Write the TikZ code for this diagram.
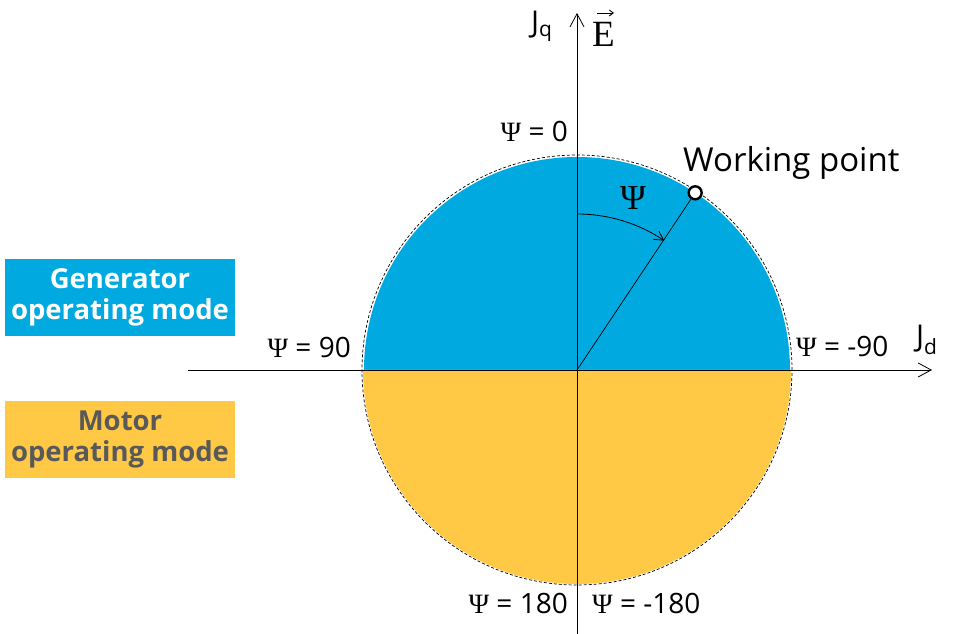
\documentclass[tikz,border=0pt]{standalone}
\usepackage{fontspec}
\setmainfont{Open Sans}
\newfontfamily\psifont{Liberation Serif}
\usetikzlibrary{arrows.meta,calc}
\definecolor{genblue}{RGB}{0,169,224}
\definecolor{motyellow}{RGB}{255,200,69}
\definecolor{mottext}{RGB}{89,89,89}
\tikzset{
  axis/.style={line width=0.8pt,-{Straight Barb[length=13pt,width=14pt,line width=0.8pt]}},
  lbl/.style={font=\fontsize{28}{32}\selectfont, inner sep=0pt},
  modebox/.style={minimum width=230pt, minimum height=77pt, inner sep=0pt, align=center,
    font=\fontsize{27.5}{31}\selectfont\bfseries},
}
\newcommand{\Psy}{{\psifont Ψ}}
\begin{document}
\begin{tikzpicture}[x=1pt,y=1pt]
\useasboundingbox (0,0) rectangle (961,634);
\coordinate (O) at (577,264);
% fills
\fill[genblue] ($(O)+(-213,0)$) arc[start angle=180,end angle=0,radius=213] -- cycle;
\fill[motyellow] ($(O)+(-214,0)$) arc[start angle=180,end angle=360,radius=214] -- cycle;
\draw[line width=0.7pt, dash pattern=on 3pt off 2pt] (O) circle[radius=215];
% axes
\coordinate (xl) at (188,264);
\coordinate (xr) at (932,264);
\coordinate (yb) at (577,0);
\coordinate (yt) at (577,621);
\draw[axis] (xl) -- (xr);
\draw[axis] (yb) -- (yt);
% working point
\node[circle, draw, fill=white, line width=2.4pt, inner sep=0pt, minimum size=13pt] (wp) at ($(O)+(56.3:213)$) {};
\draw[line width=0.7pt] (O) -- (wp);
\draw[line width=0.8pt,-{Straight Barb[length=9pt,width=10pt,line width=0.8pt]}] (O) ++(90:156) arc[start angle=90,end angle=56,radius=156];
\node[inner sep=0pt, font=\fontsize{35}{35}\selectfont] (psiarc) at (633,436) {\Psy};
\node[anchor=base west, inner sep=0pt, font=\fontsize{33}{33}\selectfont] (wpl) at (683,462) {Working point};
% angle labels
\node[lbl, anchor=base east] (p0) at (568,492) {\Psy{} = 0};
\node[lbl, anchor=base east] (p90) at (351,276) {\Psy{} = 90};
\node[lbl, anchor=base west] (pm90) at (796,277) {\Psy{} = -90};
\node[lbl, anchor=base east] (p180) at (568,20) {\Psy{} = 180};
\node[lbl, anchor=base west] (pm180) at (592,20) {\Psy{} = -180};
% axis labels
\node[anchor=base west, inner sep=0pt, font=\fontsize{30}{30}\selectfont] (jq) at (531,601) {J\textsubscript{q}};
\node[anchor=base west, inner sep=0pt, font=\fontsize{30}{30}\selectfont] (jd) at (916,287) {J\textsubscript{d}};
\node[anchor=base west, inner sep=0pt, font=\fontsize{37}{37}\selectfont\psifont] (E) at (592,587) {E};
\coordinate (ea) at ($(E.base west)+(5,34)$);
\coordinate (eb) at ($(E.base east)+(-1,34)$);
\draw[line width=0.9pt,-{Straight Barb[length=4pt,width=6pt,line width=0.9pt]}] (ea) -- (eb);
% mode boxes
\node[modebox, fill=genblue, text=white] (gen) at (120,336.5) {Generator\\operating mode};
\node[modebox, fill=motyellow, text=mottext] (mot) at (120,194.5) {Motor\\operating mode};
\end{tikzpicture}
\end{document}
